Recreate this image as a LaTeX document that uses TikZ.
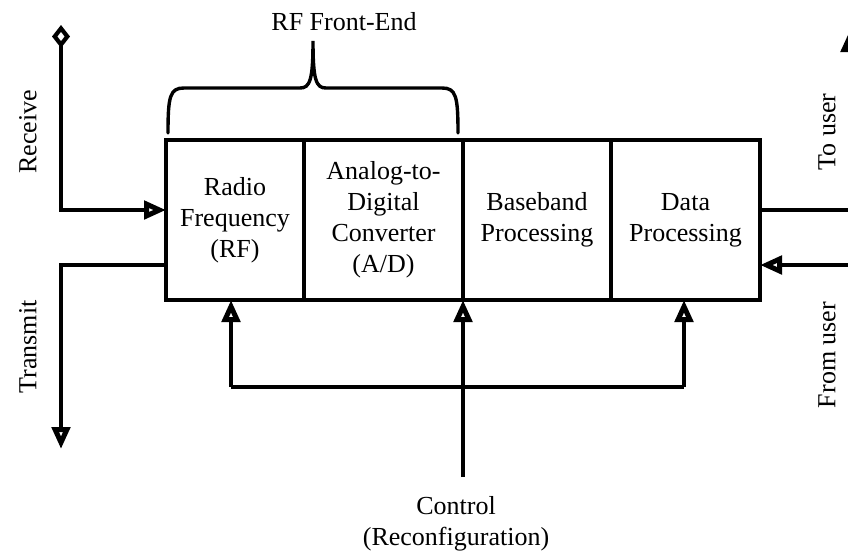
\documentclass[tikz,border=0pt]{standalone}
\usepackage{fontspec}
\setmainfont{Liberation Serif}
\usetikzlibrary{arrows.meta}
\begin{document}
\begin{tikzpicture}[x=1pt,y=-1pt,
  blk/.style={draw, line width=3.4pt, rectangle, minimum height=160pt, inner sep=0pt, outer sep=0pt, align=center, font=\fontsize{26}{31}\selectfont},
  wire/.style={line width=3.4pt},
  tip/.style={-{Triangle[open,length=22pt,width=18pt,line width=5pt]}},
  lbl/.style={font=\fontsize{26}{31}\selectfont, align=center, inner sep=0pt}]
\clip (0,0) rectangle (848,555);
\fill[white] (0,0) rectangle (848,555);
% blocks
\node[blk, minimum width=138pt] (rf) at (235,220) {Radio\\Frequency\\(RF)};
\node[blk, minimum width=159pt] (ad) at (383.5,220) {Analog-to-\\Digital\\Converter\\(A/D)};
\node[blk, minimum width=148pt] (bb) at (537,220) {Baseband\\Processing};
\node[blk, minimum width=149pt] (dp) at (685.5,220) {Data\\Processing};
% free ends
\coordinate (rx) at (61,25);
\coordinate (tx) at (61,449);
\coordinate (ctl) at (463,477);
\coordinate (busl) at (231,387);
\coordinate (busr) at (684,387);
\coordinate (touser) at (850,30);
\coordinate (fromuser) at (880,265);
% receive / transmit
\draw[wire, {Diamond[open,length=23pt,width=18pt,line width=4.2pt]}-{Triangle[open,length=22pt,width=18pt,line width=5pt]}] (rx) |- ([yshift=10pt]rf.west);
\draw[wire, tip] ([yshift=-45pt]rf.west) -| (tx);
% control
\draw[wire, tip] (ctl) -- (ad.south east);
\draw[wire] (busl) -- (busr);
\draw[wire, tip] (busl) -- (busl |- rf.south);
\draw[wire, tip] (busr) -- (busr |- dp.south);
% user side
\draw[wire, tip] ([yshift=10pt]dp.east) -| (touser);
\draw[wire, tip] (fromuser) -- ([yshift=-45pt]dp.east);
% brace
\draw[wire, line cap=round] (168,133) .. controls (168,96) and (170,88) .. (184,88) -- (300,88)
  .. controls (310,88) and (313,80) .. (313,41)
  .. controls (313,80) and (316,88) .. (326,88) -- (442,88)
  .. controls (456,88) and (458,96) .. (458,133);
% labels
\node[lbl] (fe) at (344,22) {RF Front-End};
\node[lbl, rotate=90] (rcv) at (28,132) {Receive};
\node[lbl, rotate=90] (trn) at (28,347) {Transmit};
\node[lbl, rotate=90] (tou) at (827,132) {To user};
\node[lbl, rotate=90] (fru) at (827,355) {From user};
\node[lbl] (ctltext) at (456,524) {Control\\(Reconfiguration)};
\end{tikzpicture}
\end{document}
